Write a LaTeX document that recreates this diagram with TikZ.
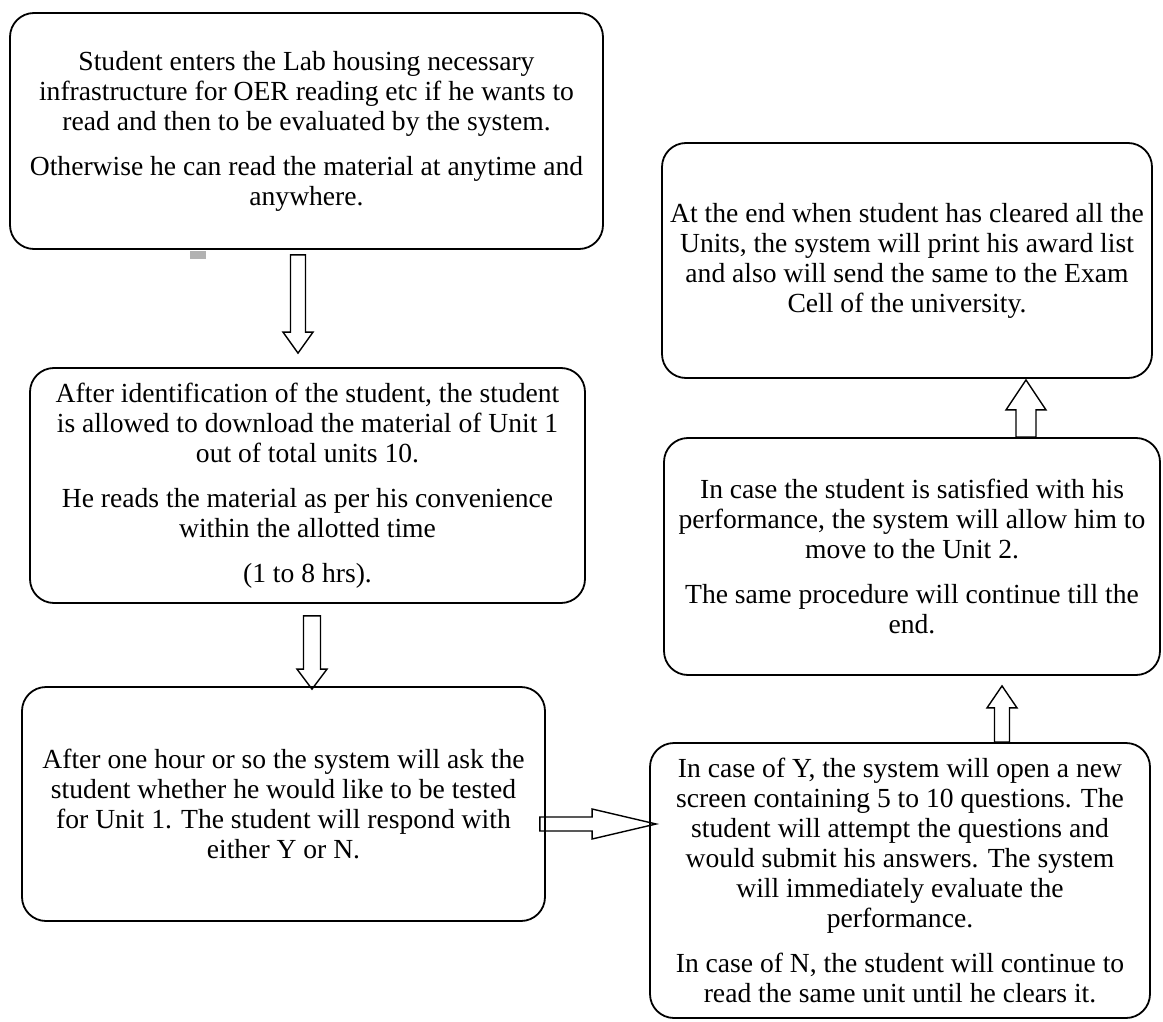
\documentclass[tikz,border=0pt]{standalone}
\usepackage{fontspec}
\setmainfont{Liberation Serif}
\usepackage{tikz}
\usetikzlibrary{calc}

\tikzset{
    box/.style={draw, line width=0.9pt, rounded corners=12pt, align=center,
        font=\fontsize{13.8pt}{15pt}\selectfont, inner sep=4pt},
    blockarrow/.style n args={3}{line width=0.7pt, line join=miter, to path={
        ($(\tikztostart)!#1!90:(\tikztotarget)$)
        -- ($(\tikztotarget)!#3!(\tikztostart)!#1!-90:(\tikztostart)$)
        -- ($(\tikztotarget)!#3!(\tikztostart)!#2!-90:(\tikztostart)$)
        -- (\tikztotarget)
        -- ($(\tikztotarget)!#3!(\tikztostart)!#2!90:(\tikztostart)$)
        -- ($(\tikztotarget)!#3!(\tikztostart)!#1!90:(\tikztostart)$)
        -- ($(\tikztostart)!#1!-90:(\tikztotarget)$)
        -- cycle}}
}

\begin{document}
\begin{tikzpicture}[x=0.5pt, y=-0.5pt]
    \useasboundingbox (0,0) rectangle (1163,1022);
    \node (start) [box, minimum width=296.5pt, minimum height=118pt] at (306.5,131)
        {Student enters the Lab housing necessary\\
         infrastructure for OER reading etc if he wants to\\
         read and then to be evaluated by the system.\\[7.5pt]
         Otherwise he can read the material at anytime and\\
         anywhere.};
    \node (download) [box, minimum width=277.5pt, minimum height=117.5pt] at (307.5,485.5)
        {After identification of the student, the student\\
         is allowed to download the material of Unit 1\\
         out of total units 10.\\[7.5pt]
         He reads the material as per his convenience\\
         within the allotted time\\[7.5pt]
         (1 to 8 hrs).};
    \node (ask) [box, minimum width=261.5pt, minimum height=117pt] at (283.5,804)
        {After one hour or so the system will ask the\\
         student whether he would like to be tested\\
         for Unit 1. The student will respond with\\
         either Y or N.};
    \node (test) [box, minimum width=250pt, minimum height=137.5pt] at (900,880.5)
        {In case of Y, the system will open a new\\
         screen containing 5 to 10 questions. The\\
         student will attempt the questions and\\
         would submit his answers. The system\\
         will immediately evaluate the\\
         performance.\\[7.5pt]
         In case of N, the student will continue to\\
         read the same unit until he clears it.};
    \node (next) [box, minimum width=248pt, minimum height=118.5pt] at (912,556.5)
        {In case the student is satisfied with his\\
         performance, the system will allow him to\\
         move to the Unit 2.\\[7.5pt]
         The same procedure will continue till the\\
         end.};
    \node (award) [box, minimum width=245pt, minimum height=117.5pt] at (907,260.5)
        {At the end when student has cleared all the\\
         Units, the system will print his award list\\
         and also will send the same to the Exam\\
         Cell of the university.};

    % small grey mark under the first box
    \fill [gray!60] (190,251) rectangle (206,259);

    \coordinate (a1s) at ($(start.south)+(-8.5,5)$);
    \coordinate (a1e) at ($(download.north)+(-9.5,-14)$);
    \coordinate (a2s) at ($(download.south)+(4.5,12)$);
    \coordinate (a2e) at ($(ask.north)+(28.5,3)$);
    \coordinate (a3s) at ($(ask.east)+(-6,20)$);
    \coordinate (a3e) at ($(test.west)+(7,-56.5)$);
    \coordinate (a4s) at ($(test.north)+(102,0)$);
    \coordinate (a4e) at ($(next.south)+(90,10)$);
    \coordinate (a5s) at ($(next.north)+(114,0)$);
    \coordinate (a5e) at ($(award.south)+(119,1)$);

    \path
        (a1s) edge [blockarrow={3.75pt}{7.5pt}{10.5pt}] (a1e)
        (a2s) edge [blockarrow={4.25pt}{7.5pt}{10pt}] (a2e)
        (a3s) edge [blockarrow={3.5pt}{7.5pt}{32pt}] (a3e)
        (a4s) edge [blockarrow={3.75pt}{7.5pt}{11pt}] (a4e)
        (a5s) edge [blockarrow={5pt}{10pt}{15pt}] (a5e);
\end{tikzpicture}
\end{document}
